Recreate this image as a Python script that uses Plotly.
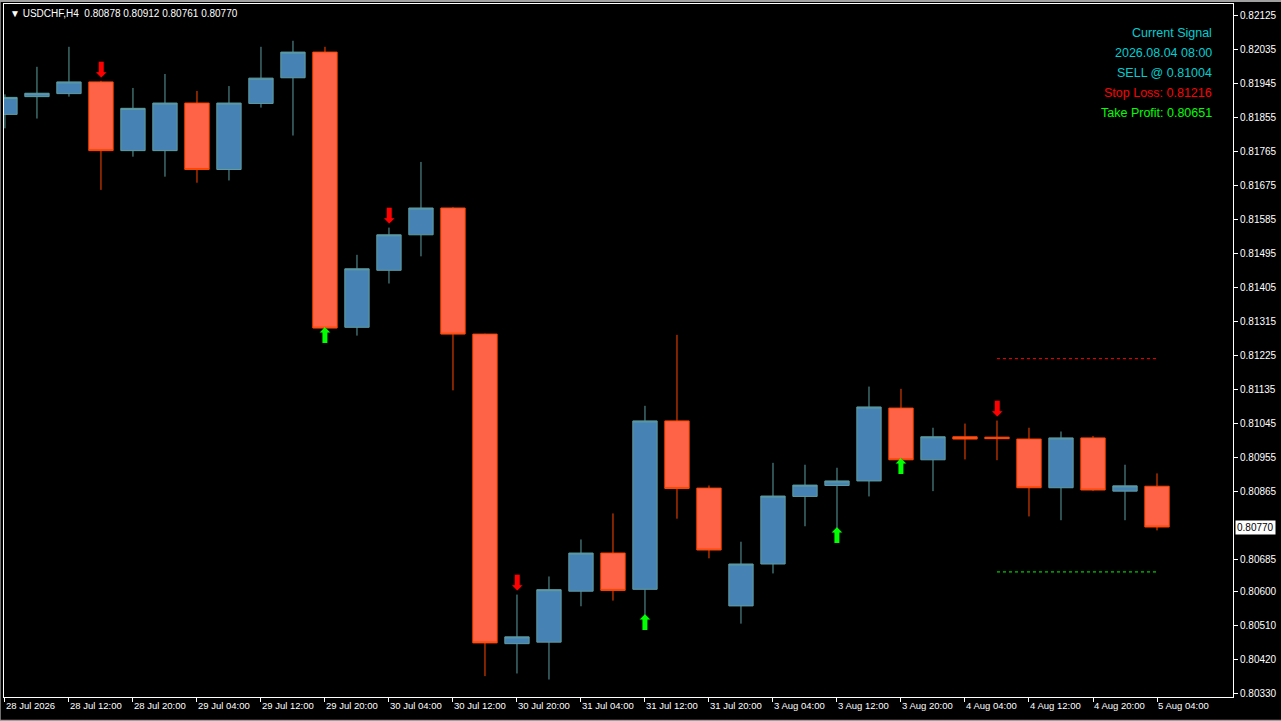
import plotly.graph_objects as go

# ---------------- data ----------------
TIMES = [
    "2026.07.28 04:00", "2026.07.28 08:00", "2026.07.28 12:00", "2026.07.28 16:00", "2026.07.28 20:00",
    "2026.07.29 00:00", "2026.07.29 04:00", "2026.07.29 08:00", "2026.07.29 12:00", "2026.07.29 16:00",
    "2026.07.29 20:00", "2026.07.30 00:00", "2026.07.30 04:00", "2026.07.30 08:00", "2026.07.30 12:00",
    "2026.07.30 16:00", "2026.07.30 20:00", "2026.07.31 00:00", "2026.07.31 04:00", "2026.07.31 08:00",
    "2026.07.31 12:00", "2026.07.31 16:00", "2026.07.31 20:00", "2026.08.03 00:00", "2026.08.03 04:00",
    "2026.08.03 08:00", "2026.08.03 12:00", "2026.08.03 16:00", "2026.08.03 20:00", "2026.08.04 00:00",
    "2026.08.04 04:00", "2026.08.04 08:00", "2026.08.04 12:00", "2026.08.04 16:00", "2026.08.04 20:00",
    "2026.08.05 00:00", "2026.08.05 04:00",
]
OPEN = [0.81863, 0.81910, 0.81918, 0.81949, 0.81767, 0.81767, 0.81893, 0.81717, 0.81892, 0.81960,
        0.82028, 0.81299, 0.81450, 0.81544, 0.81615, 0.81281, 0.80461, 0.80465, 0.80600, 0.80701,
        0.80605, 0.81051, 0.80873, 0.80561, 0.80672, 0.80851, 0.80880, 0.80892, 0.81085, 0.80948,
        0.81009, 0.81008, 0.81003, 0.80874, 0.81006, 0.80865, 0.80878]
HIGH = [0.81916, 0.81989, 0.82042, 0.81952, 0.81933, 0.81970, 0.81925, 0.81938, 0.82042, 0.82058,
        0.82042, 0.81491, 0.81563, 0.81737, 0.81617, 0.81282, 0.80591, 0.80639, 0.80737, 0.80806,
        0.81091, 0.81279, 0.80880, 0.80731, 0.80940, 0.80935, 0.80927, 0.81142, 0.81136, 0.81033,
        0.81044, 0.81052, 0.81033, 0.81023, 0.81011, 0.80935, 0.80912]
LOW = [0.81826, 0.81852, 0.81910, 0.81663, 0.81751, 0.81698, 0.81682, 0.81688, 0.81881, 0.81807,
       0.81295, 0.81277, 0.81415, 0.81487, 0.81132, 0.80375, 0.80382, 0.80366, 0.80560, 0.80575,
       0.80535, 0.80792, 0.80687, 0.80514, 0.80647, 0.80772, 0.80763, 0.80851, 0.80946, 0.80865,
       0.80949, 0.80947, 0.80798, 0.80788, 0.80866, 0.80788, 0.80761]
CLOSE = [0.81908, 0.81919, 0.81949, 0.81767, 0.81879, 0.81893, 0.81717, 0.81893, 0.81959, 0.82028,
         0.81297, 0.81454, 0.81544, 0.81615, 0.81281, 0.80463, 0.80479, 0.80604, 0.80701, 0.80602,
         0.81051, 0.80872, 0.80709, 0.80672, 0.80852, 0.80881, 0.80892, 0.81088, 0.80948, 0.81009,
         0.81003, 0.81004, 0.80874, 0.81006, 0.80868, 0.80879, 0.80770]

SELL_ARROW_TIMES = ["2026.07.28 16:00", "2026.07.30 04:00", "2026.07.30 20:00", "2026.08.04 08:00"]
SELL_ARROW_PRICES = [0.81977, 0.81590, 0.80618, 0.81079]
BUY_ARROW_TIMES = ["2026.07.29 20:00", "2026.07.31 12:00", "2026.08.03 12:00", "2026.08.03 20:00"]
BUY_ARROW_PRICES = [0.81272, 0.80512, 0.80741, 0.80924]

SIGNAL_TIME = "2026.08.04 08:00"
SIGNAL_END_TIME = "2026.08.05 04:00"
SIGNAL_TYPE = "SELL"
SIGNAL_PRICE = 0.81004
STOP_LOSS = 0.81216
TAKE_PROFIT = 0.80651

X_TICK_TIMES = TIMES[0::2]
X_TICK_LABELS = ["28 Jul 2026", "28 Jul 12:00", "28 Jul 20:00", "29 Jul 04:00", "29 Jul 12:00",
                 "29 Jul 20:00", "30 Jul 04:00", "30 Jul 12:00", "30 Jul 20:00", "31 Jul 04:00",
                 "31 Jul 12:00", "31 Jul 20:00", "3 Aug 04:00", "3 Aug 12:00", "3 Aug 20:00",
                 "4 Aug 04:00", "4 Aug 12:00", "4 Aug 20:00", "5 Aug 04:00"]
Y_TICKS = [0.82125, 0.82035, 0.81945, 0.81855, 0.81765, 0.81675, 0.81585, 0.81495, 0.81405,
           0.81315, 0.81225, 0.81135, 0.81045, 0.80955, 0.80865, 0.80685, 0.80600, 0.80510,
           0.80420, 0.80330]
SYMBOL = "USDCHF,H4"

# ---------------- styling ----------------
FONT = "Liberation Sans"
BG = "#000000"
BULL_FILL, BULL_LINE = "#4682B4", "#5F9EA0"
BEAR_FILL, BEAR_LINE = "#FF6347", "#FF4500"
CYAN = "#00CED1"

fig = go.Figure()

fig.add_trace(go.Candlestick(
    x=TIMES, open=OPEN, high=HIGH, low=LOW, close=CLOSE,
    increasing=dict(fillcolor=BULL_FILL, line=dict(color=BULL_LINE, width=1)),
    decreasing=dict(fillcolor=BEAR_FILL, line=dict(color=BEAR_LINE, width=1)),
    whiskerwidth=0, showlegend=False, hoverinfo="skip",
))

# stop loss / take profit levels
fig.add_trace(go.Scatter(
    x=[SIGNAL_TIME, SIGNAL_END_TIME], y=[STOP_LOSS, STOP_LOSS], mode="lines",
    line=dict(color="#FF0000", width=1, dash="3px,3px"), showlegend=False, hoverinfo="skip"))
fig.add_trace(go.Scatter(
    x=[SIGNAL_TIME, SIGNAL_END_TIME], y=[TAKE_PROFIT, TAKE_PROFIT], mode="lines",
    line=dict(color="#00FF00", width=1, dash="3px,3px"), showlegend=False, hoverinfo="skip"))

# arrows
fig.add_trace(go.Scatter(
    x=SELL_ARROW_TIMES, y=SELL_ARROW_PRICES, mode="text", text=["⬇"] * len(SELL_ARROW_TIMES),
    textposition="middle center",
    textfont=dict(family="DejaVu Sans", size=21, color="#FF0000"), showlegend=False, hoverinfo="skip"))
fig.add_trace(go.Scatter(
    x=BUY_ARROW_TIMES, y=BUY_ARROW_PRICES, mode="text", text=["⬆"] * len(BUY_ARROW_TIMES),
    textposition="middle center",
    textfont=dict(family="DejaVu Sans", size=21, color="#00FF00"), showlegend=False, hoverinfo="skip"))

annotations = []
# top-left symbol header
header = "%s  %.5f %.5f %.5f %.5f" % (SYMBOL, OPEN[-1], HIGH[-1], LOW[-1], CLOSE[-1])
annotations.append(dict(xref="paper", yref="paper", x=0, y=1, xanchor="left", yanchor="top",
                        xshift=4, yshift=-2, text="▼ " + header, showarrow=False,
                        font=dict(family=FONT, size=10, color="#FFFFFF")))
# signal panel
sig_lines = [
    ("Current Signal", CYAN),
    (SIGNAL_TIME, CYAN),
    ("%s @ %.5f" % (SIGNAL_TYPE, SIGNAL_PRICE), CYAN),
    ("Stop Loss: %.5f" % STOP_LOSS, "#FF0000"),
    ("Take Profit: %.5f" % TAKE_PROFIT, "#00FF00"),
]
for i, (txt, col) in enumerate(sig_lines):
    annotations.append(dict(xref="paper", yref="paper", x=1, y=1, xanchor="right", yanchor="middle",
                            xshift=-19, yshift=-29 - 20 * i, text=txt, showarrow=False,
                            font=dict(family=FONT, size=12.5, color=col)))
# current price label
annotations.append(dict(xref="paper", yref="y", x=1, y=CLOSE[-1], xanchor="left", yanchor="middle",
                        xshift=2, text="%.5f" % CLOSE[-1], showarrow=False, bgcolor="#FFFFFF",
                        borderpad=1, font=dict(family=FONT, size=10, color="#000000")))

fig.update_layout(
    width=1281, height=721,
    margin=dict(l=4, r=48, t=4, b=24, pad=0),
    paper_bgcolor=BG, plot_bgcolor=BG,
    showlegend=False,
    boxgap=0.24, boxgroupgap=0,
    annotations=annotations,
    shapes=[dict(type="rect", xref="paper", yref="paper", x0=-0.0035, x1=1.0405, y0=-0.0343, y1=1.0045,
                 line=dict(color="#A0A0A0", width=2), layer="below")],
    xaxis=dict(
        type="category", range=[-0.03, 38.375], rangeslider=dict(visible=False),
        showgrid=False, zeroline=False, showline=True, mirror=True, linecolor="#FFFFFF", linewidth=1,
        ticks="outside", ticklen=4, tickcolor="#FFFFFF", tickvals=X_TICK_TIMES, ticktext=X_TICK_LABELS,
        ticklabelposition="outside right",
        tickfont=dict(family=FONT, size=9.5, color="#FFFFFF"),
    ),
    yaxis=dict(
        side="right", range=[0.803197, 0.821554], showgrid=False, zeroline=False,
        showline=True, mirror=True, linecolor="#FFFFFF", linewidth=1,
        ticks="outside", ticklen=4, tickcolor="#FFFFFF",
        tickvals=Y_TICKS, ticktext=["%.5f" % v for v in Y_TICKS],
        tickfont=dict(family=FONT, size=10, color="#FFFFFF"),
    ),
)

fig.write_html("out.html", config={"displayModeBar": False},
               post_script="document.body.style.margin='0';document.body.style.background='#000';")
